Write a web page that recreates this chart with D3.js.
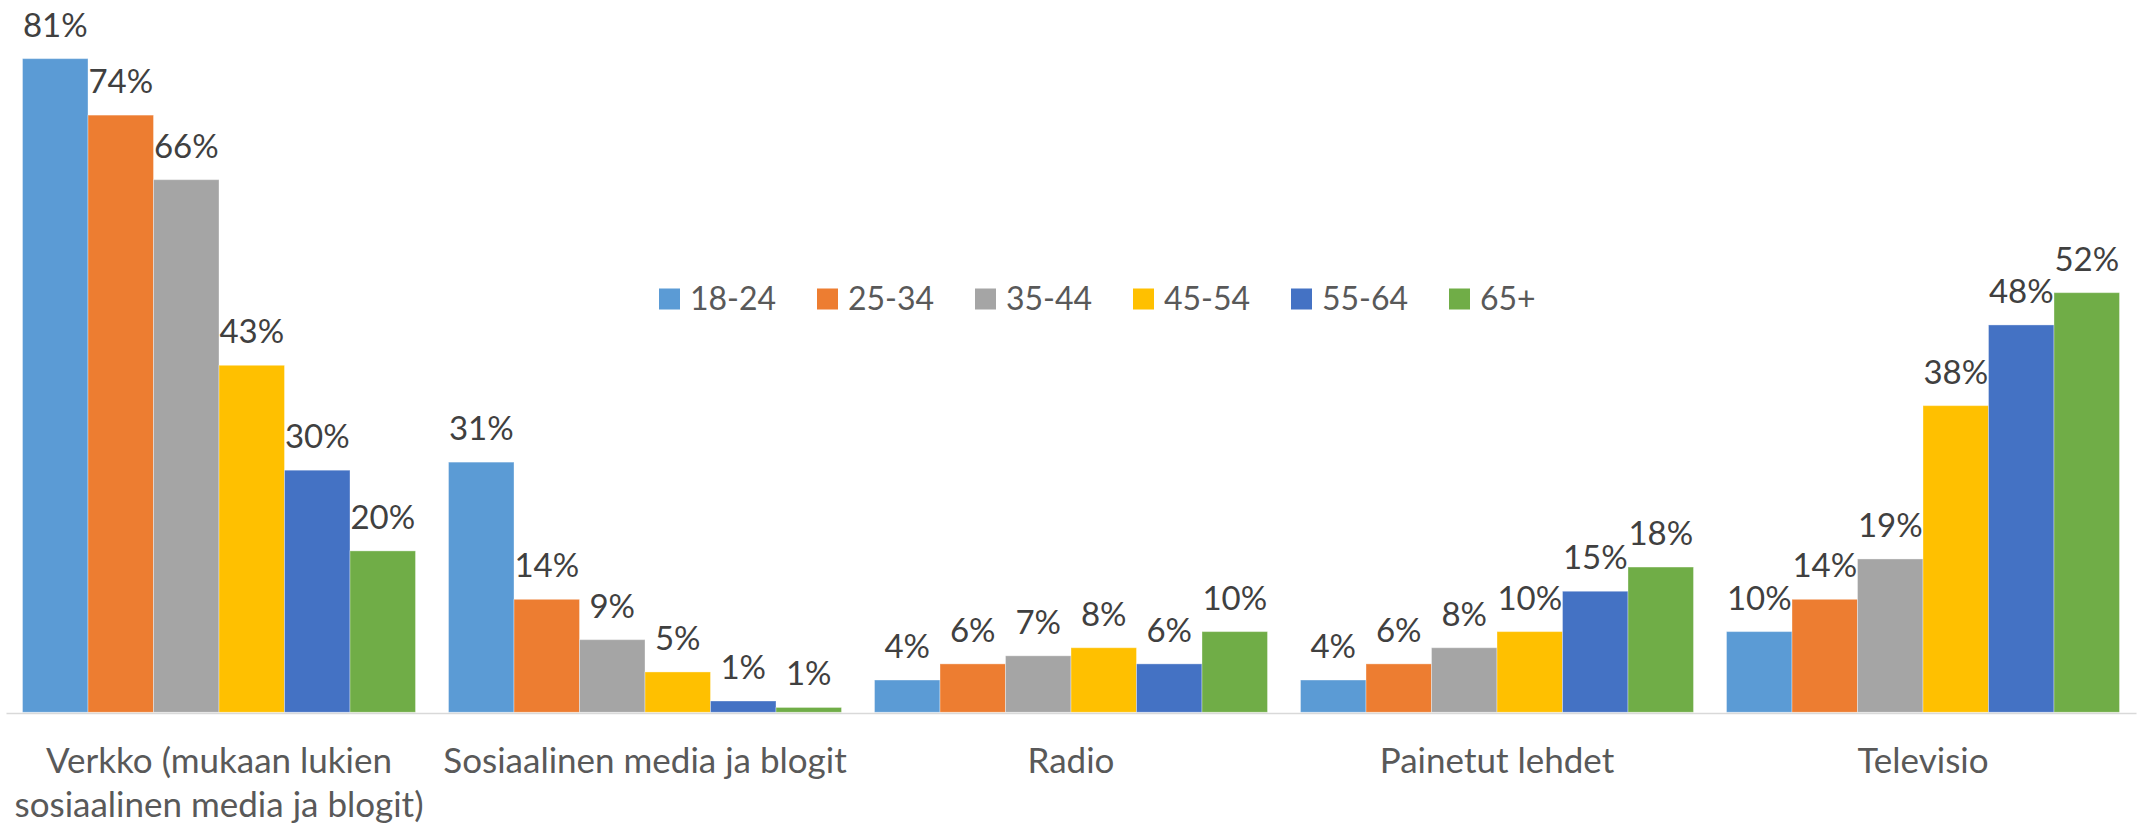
<!DOCTYPE html>
<html>
<head>
<meta charset="utf-8">
<script src="https://cdn.jsdelivr.net/npm/d3@7/dist/d3.min.js"></script>
<style>
  html, body { margin: 0; padding: 0; background: #fff; }
  svg { display: block; }
  text { font-family: Lato, "Open Sans", sans-serif; }
</style>
</head>
<body>
<svg id="chart" width="2139" height="826"></svg>
<script>
// ---- data ----
const categories = [
  "Verkko (mukaan lukien\nsosiaalinen media ja blogit)",
  "Sosiaalinen media ja blogit",
  "Radio",
  "Painetut lehdet",
  "Televisio"
];
const seriesNames = ["18-24", "25-34", "35-44", "45-54", "55-64", "65+"];
const s1824 = [81, 31, 4, 4, 10];
const s2534 = [74, 14, 6, 6, 14];
const s3544 = [66, 9, 7, 8, 19];
const s4554 = [43, 5, 8, 10, 38];
const s5564 = [30, 1.4, 6, 15, 48];
const s65   = [20, 0.6, 10, 18, 52];
const seriesValues = [s1824, s2534, s3544, s4554, s5564, s65];
const colors = ["#5B9BD5", "#ED7D31", "#A5A5A5", "#FFC000", "#4472C4", "#70AD47"];

// ---- layout ----
const W = 2139, H = 826;
const baseY = 712.3;
const svg = d3.select("#chart");

const x0 = d3.scaleBand()
  .domain(categories)
  .range([6, 2136])
  .paddingInner(0.0775)
  .paddingOuter(0.0775 / 2);

const x1 = d3.scaleBand()
  .domain(seriesNames)
  .range([0, x0.bandwidth()]);

const y = d3.scaleLinear()
  .domain([0, 90])
  .range([baseY, baseY - 90 * 8.07]);

const rows = [];
categories.forEach((c, ci) => {
  seriesNames.forEach((s, si) => {
    rows.push({ cat: c, ser: s, v: seriesValues[si][ci], color: colors[si] });
  });
});

const g = svg.append("g");

g.selectAll("rect.bar")
  .data(rows)
  .join("rect")
  .attr("class", "bar")
  .attr("x", d => x0(d.cat) + x1(d.ser))
  .attr("y", d => y(d.v))
  .attr("width", x1.bandwidth())
  .attr("height", d => baseY - y(d.v))
  .attr("fill", d => d.color)
  .attr("stroke", "rgba(255,255,255,0.35)")
  .attr("stroke-width", 1);

// axis line
const xAxis = d3.axisBottom(x0).tickSize(0).tickFormat("");
const axG = svg.append("g").attr("transform", `translate(0,${baseY + 0.7})`).call(xAxis);
axG.select(".domain").attr("stroke", "#D9D9D9").attr("stroke-width", 1.5);

// data labels
g.selectAll("text.lbl")
  .data(rows)
  .join("text")
  .attr("class", "lbl")
  .attr("x", d => x0(d.cat) + x1(d.ser) + x1.bandwidth() / 2)
  .attr("y", d => y(d.v) - 22)
  .attr("text-anchor", "middle")
  .attr("fill", "#404040")
  .attr("font-size", 33)
  .text(d => Math.round(d.v) + "%");

// category labels
const catG = svg.append("g");
categories.forEach(c => {
  const lines = c.split("\n");
  const t = catG.append("text")
    .attr("x", x0(c) + x0.bandwidth() / 2)
    .attr("y", 773)
    .attr("text-anchor", "middle")
    .attr("fill", "#595959")
    .attr("font-size", 35);
  lines.forEach((ln, i) => {
    t.append("tspan")
      .attr("x", x0(c) + x0.bandwidth() / 2)
      .attr("dy", i === 0 ? 0 : 44)
      .text(ln);
  });
});

// legend
const legStart = 659, legStep = 158, sq = 21, legY = 299;
const leg = svg.append("g");
seriesNames.forEach((s, i) => {
  const lx = legStart + i * legStep;
  leg.append("rect")
    .attr("x", lx).attr("y", legY - sq / 2)
    .attr("width", sq).attr("height", sq)
    .attr("fill", colors[i]);
  leg.append("text")
    .attr("x", lx + sq + 10)
    .attr("y", legY + 11)
    .attr("fill", "#595959")
    .attr("font-size", 32)
    .text(s);
});
</script>
</body>
</html>
